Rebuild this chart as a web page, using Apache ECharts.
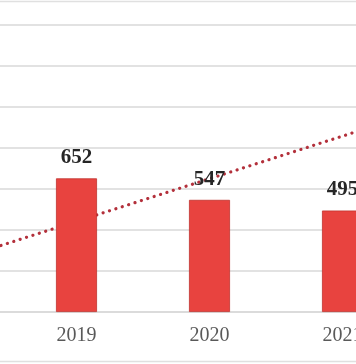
<!DOCTYPE html>
<html>
<head>
<meta charset="utf-8">
<script src="https://cdn.jsdelivr.net/npm/echarts@6/dist/echarts.min.js"></script>
<style>
html,body{margin:0;padding:0;background:#fff;width:356px;height:364px;overflow:hidden;position:relative;}
#c{position:absolute;left:-123px;top:-16px;width:665px;height:380px;}
</style>
</head>
<body>
<div id="c"></div>
<script>
const years = ['2018', '2019', '2020', '2021', '2022'];
const barValues = ['-', 652, 547, 495, '-'];
const trendValues = [235, 442, 650, 858, 1065];
const yTicks = [0, 200, 400, 600, 800, 1000, 1200, 1400, 1600];

const chart = echarts.init(document.getElementById('c'), null, {renderer: 'canvas'});
chart.setOption({
  animation: false,
  backgroundColor: '#ffffff',
  grid: {left: 0, right: 0, top: 0, bottom: 52, containLabel: false},
  xAxis: {
    type: 'category',
    data: years,
    boundaryGap: true,
    axisLine: {show: true, lineStyle: {color: '#d9d9d9', width: 1.5}},
    axisTick: {show: false},
    axisLabel: {
      color: '#595959',
      fontFamily: 'Liberation Serif',
      fontSize: 20,
      margin: 14
    }
  },
  yAxis: {
    type: 'value',
    min: yTicks[0],
    max: yTicks[yTicks.length - 1],
    interval: yTicks[1] - yTicks[0],
    axisLabel: {show: false},
    axisLine: {show: false},
    axisTick: {show: false},
    splitLine: {lineStyle: {color: '#d9d9d9', width: 1.5}}
  },
  graphic: [
    {type: 'line', shape: {x1: 123, y1: 17.5, x2: 479, y2: 17.5}, style: {stroke: '#e0e0e0', lineWidth: 1.5}, silent: true},
    {type: 'line', shape: {x1: 123, y1: 377.5, x2: 479, y2: 377.5}, style: {stroke: '#e0e0e0', lineWidth: 1.5}, silent: true}
  ],
  series: [
    {
      type: 'line',
      data: trendValues,
      symbol: 'none',
      z: 1,
      lineStyle: {color: '#B3303B', width: 3.2, type: [0.1, 6.6], cap: 'round'}
    },
    {
      type: 'bar',
      data: barValues,
      barWidth: 41,
      z: 3,
      itemStyle: {color: '#E8433F', borderColor: '#C0322E', borderWidth: 0.8},
      label: {
        show: true,
        position: 'top',
        distance: 10,
        color: '#262626',
        fontFamily: 'Liberation Serif',
        fontWeight: 'bold',
        fontSize: 21
      }
    }
  ]
});
</script>
</body>
</html>
